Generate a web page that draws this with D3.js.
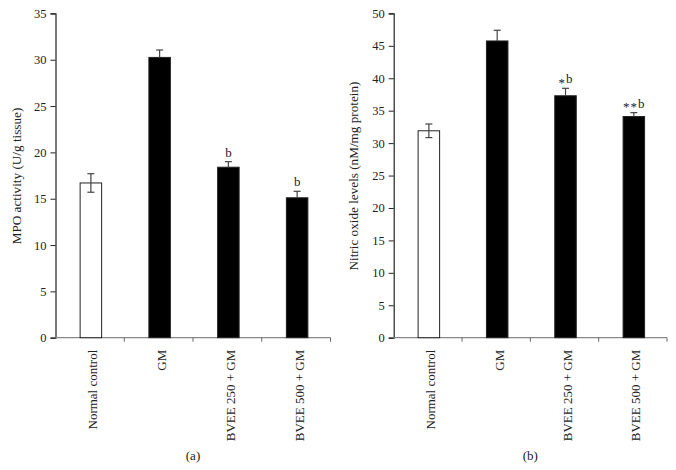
<!DOCTYPE html>
<html><head><meta charset="utf-8">
<script src="https://cdn.jsdelivr.net/npm/d3@7"></script>
<style>body{margin:0;background:#fff}</style>
</head><body>
<svg id="c" width="676" height="470"></svg>
<script>
const categories = ["Normal control", "GM", "BVEE 250 + GM", "BVEE 500 + GM"];
const mpoValues = [16.7, 30.25, 18.4, 15.1];
const mpoErrors = [1.0, 0.8, 0.6, 0.7];
const mpoLabels = ["", "", "b", "b"];
const noValues = [31.9, 45.75, 37.3, 34.1];
const noErrors = [1.05, 1.65, 1.15, 0.6];
const noLabels = ["", "", "*b", "**b"];
const mpoTicks = [0, 5, 10, 15, 20, 25, 30, 35];
const noTicks = [0, 5, 10, 15, 20, 25, 30, 35, 40, 45, 50];
const fills = ["#fff", "#000", "#000", "#000"];

const svg = d3.select("#c");
const FONT = "'Liberation Serif', 'Times New Roman', serif";

function panel(opt) {
  const g = svg.append("g");
  const x = d3.scaleBand().domain(categories).range([opt.x0, opt.x1]).paddingInner(0).paddingOuter(0);
  const y = d3.scaleLinear().domain([0, opt.max]).range([337.7, 13.4]);
  const bw = 21.5;
  // y axis
  const ya = g.append("g").attr("transform", `translate(${opt.x0},0)`)
    .call(d3.axisLeft(y).tickValues(opt.ticks).tickSize(5).tickPadding(4).tickFormat(d3.format("d")));
  ya.select(".domain").attr("stroke", "#222").attr("stroke-width", 1.2);
  ya.selectAll(".tick line").attr("stroke", "#222");
  ya.selectAll("text").attr("font-family", FONT).attr("font-size", 12.5).attr("fill", "#222");
  // x axis
  const xa = g.append("g").attr("transform", `translate(0,${y(0)})`);
  xa.append("line").attr("x1", opt.x0).attr("x2", opt.x1).attr("stroke", "#888").attr("stroke-width", 1.2);
  const bounds = categories.map(c => x(c)).concat([opt.x1]);
  xa.selectAll("line.t").data(bounds.slice(1)).join("line").attr("class", "t")
    .attr("x1", d => d).attr("x2", d => d).attr("y1", 0).attr("y2", 4).attr("stroke", "#666");
  xa.selectAll("text").data(categories).join("text")
    .attr("transform", d => `translate(${x(d) + x.bandwidth() / 2 + 3},12) rotate(-90)`)
    .attr("text-anchor", "end").attr("dy", "0.35em")
    .attr("font-family", FONT).attr("font-size", 13).attr("fill", "#222").text(d => d);
  // bars
  g.selectAll("rect.bar").data(categories).join("rect").attr("class", "bar")
    .attr("x", d => x(d) + x.bandwidth() / 2 - bw / 2 + 1)
    .attr("y", (d, i) => y(opt.values[i]))
    .attr("width", bw).attr("height", (d, i) => y(0) - y(opt.values[i]))
    .attr("fill", (d, i) => fills[i]).attr("stroke", "#222").attr("stroke-width", 1);
  // error bars
  categories.forEach((c, i) => {
    const cx = x(c) + x.bandwidth() / 2 + 1;
    const top = y(opt.values[i] + opt.errors[i]);
    const bot = i === 0 ? y(opt.values[i] - opt.errors[i]) : y(opt.values[i]);
    g.append("line").attr("x1", cx).attr("x2", cx).attr("y1", top).attr("y2", bot).attr("stroke", "#444").attr("stroke-width", 1.2);
    g.append("line").attr("x1", cx - 3.5).attr("x2", cx + 3.5).attr("y1", top).attr("y2", top).attr("stroke", "#444").attr("stroke-width", 1.2);
    if (i === 0) g.append("line").attr("x1", cx - 3.5).attr("x2", cx + 3.5).attr("y1", bot).attr("y2", bot).attr("stroke", "#444").attr("stroke-width", 1.2);
    const lab = opt.labels[i];
    if (lab) {
      const stars = lab.replace(/[^*]/g, "");
      const rest = lab.replace(/\*/g, "");
      const t = g.append("text").attr("x", cx).attr("y", top - 5).attr("text-anchor", "middle")
        .attr("font-family", FONT).attr("font-size", 13).attr("fill", "#222");
      if (stars) {
        t.append("tspan").attr("font-size", 13).attr("dy", 3.5).attr("letter-spacing", 1).text(stars);
        t.append("tspan").attr("dy", -3.5).text(rest);
      } else {
        t.text(rest);
      }
    }
  });
  // axis title
  g.append("text").attr("transform", `translate(${opt.titleX},176) rotate(-90)`)
    .attr("text-anchor", "middle").attr("dy", "0.35em").attr("font-family", FONT).attr("font-size", 13.2).attr("fill", "#222").text(opt.title);
  g.append("text").attr("x", (opt.x0 + opt.x1) / 2).attr("y", 460).attr("text-anchor", "middle")
    .attr("font-family", FONT).attr("font-size", 13).attr("fill", "#222").text(opt.panel);
}

panel({x0: 55.5, x1: 330.5, max: 35, ticks: mpoTicks, values: mpoValues, errors: mpoErrors, labels: mpoLabels,
  title: "MPO activity (U/g tissue)", titleX: 16, panel: "(a)"});
panel({x0: 393.7, x1: 667, max: 50, ticks: noTicks, values: noValues, errors: noErrors, labels: noLabels,
  title: "Nitric oxide levels (nM/mg protein)", titleX: 353, panel: "(b)"});
</script>
</body></html>
